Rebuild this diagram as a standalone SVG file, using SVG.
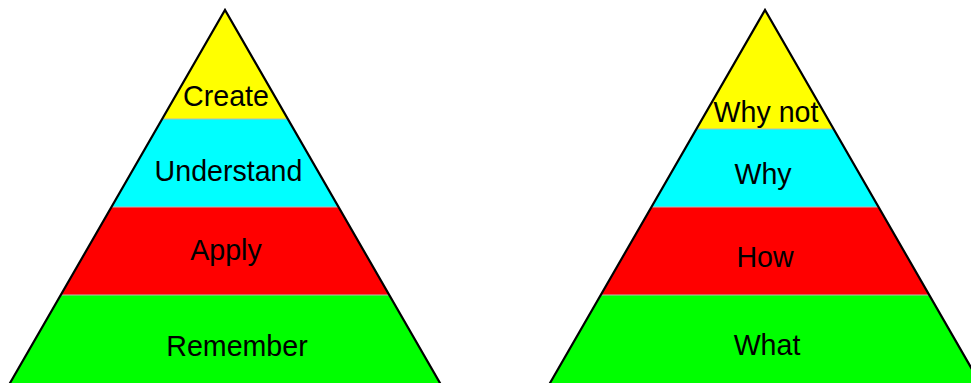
<svg xmlns="http://www.w3.org/2000/svg" width="971" height="383" viewBox="0 0 971 383">
<style>
.y{fill:#ffff00}.c{fill:#00ffff}.r{fill:#ff0000}.g{fill:#00ff00}
.sep{stroke:#b8b8b8;stroke-width:1;fill:none}
.out{fill:none;stroke:#000;stroke-width:2.2;stroke-linejoin:miter}
text{font-family:"Liberation Sans",Arial,sans-serif;font-size:28.6px;fill:#000;text-anchor:middle}
</style>
<rect width="971" height="383" fill="#fff"/>
<g id="left-pyramid">
<g id="create"><polygon class="y" points="225,10 287.83,119 162.17,119"/><text x="226" y="105.5">Create</text></g>
<g id="understand"><polygon class="c" points="162.17,119 287.83,119 338.55,207 111.45,207"/><text x="228.5" y="181">Understand</text></g>
<g id="apply"><polygon class="r" points="111.45,207 338.55,207 389.27,295 60.73,295"/><text x="226" y="260">Apply</text></g>
<g id="remember"><polygon class="g" points="60.73,295 389.27,295 444,390 6,390"/><text x="237" y="356">Remember</text></g>
<line class="sep" x1="163" y1="119" x2="287" y2="119"/>
<line class="sep" x1="112" y1="207" x2="338" y2="207"/>
<line class="sep" x1="61" y1="295" x2="389" y2="295"/>
<polyline class="out" points="6,390 225,10 444,390"/>
</g>
<g id="right-pyramid">
<g id="whynot"><polygon class="y" points="765,10 833.59,129 696.41,129"/><text x="766" y="122">Why not</text></g>
<g id="why"><polygon class="c" points="696.41,129 833.59,129 878.55,207 651.45,207"/><text x="763" y="184">Why</text></g>
<g id="how"><polygon class="r" points="651.45,207 878.55,207 929.27,295 600.73,295"/><text x="765" y="267">How</text></g>
<g id="what"><polygon class="g" points="600.73,295 929.27,295 984,390 546,390"/><text x="767" y="355">What</text></g>
<line class="sep" x1="697" y1="129" x2="833" y2="129"/>
<line class="sep" x1="652" y1="207" x2="878" y2="207"/>
<line class="sep" x1="601" y1="295" x2="929" y2="295"/>
<polyline class="out" points="546,390 765,10 984,390"/>
</g>
<g id="connectors"/>
</svg>
